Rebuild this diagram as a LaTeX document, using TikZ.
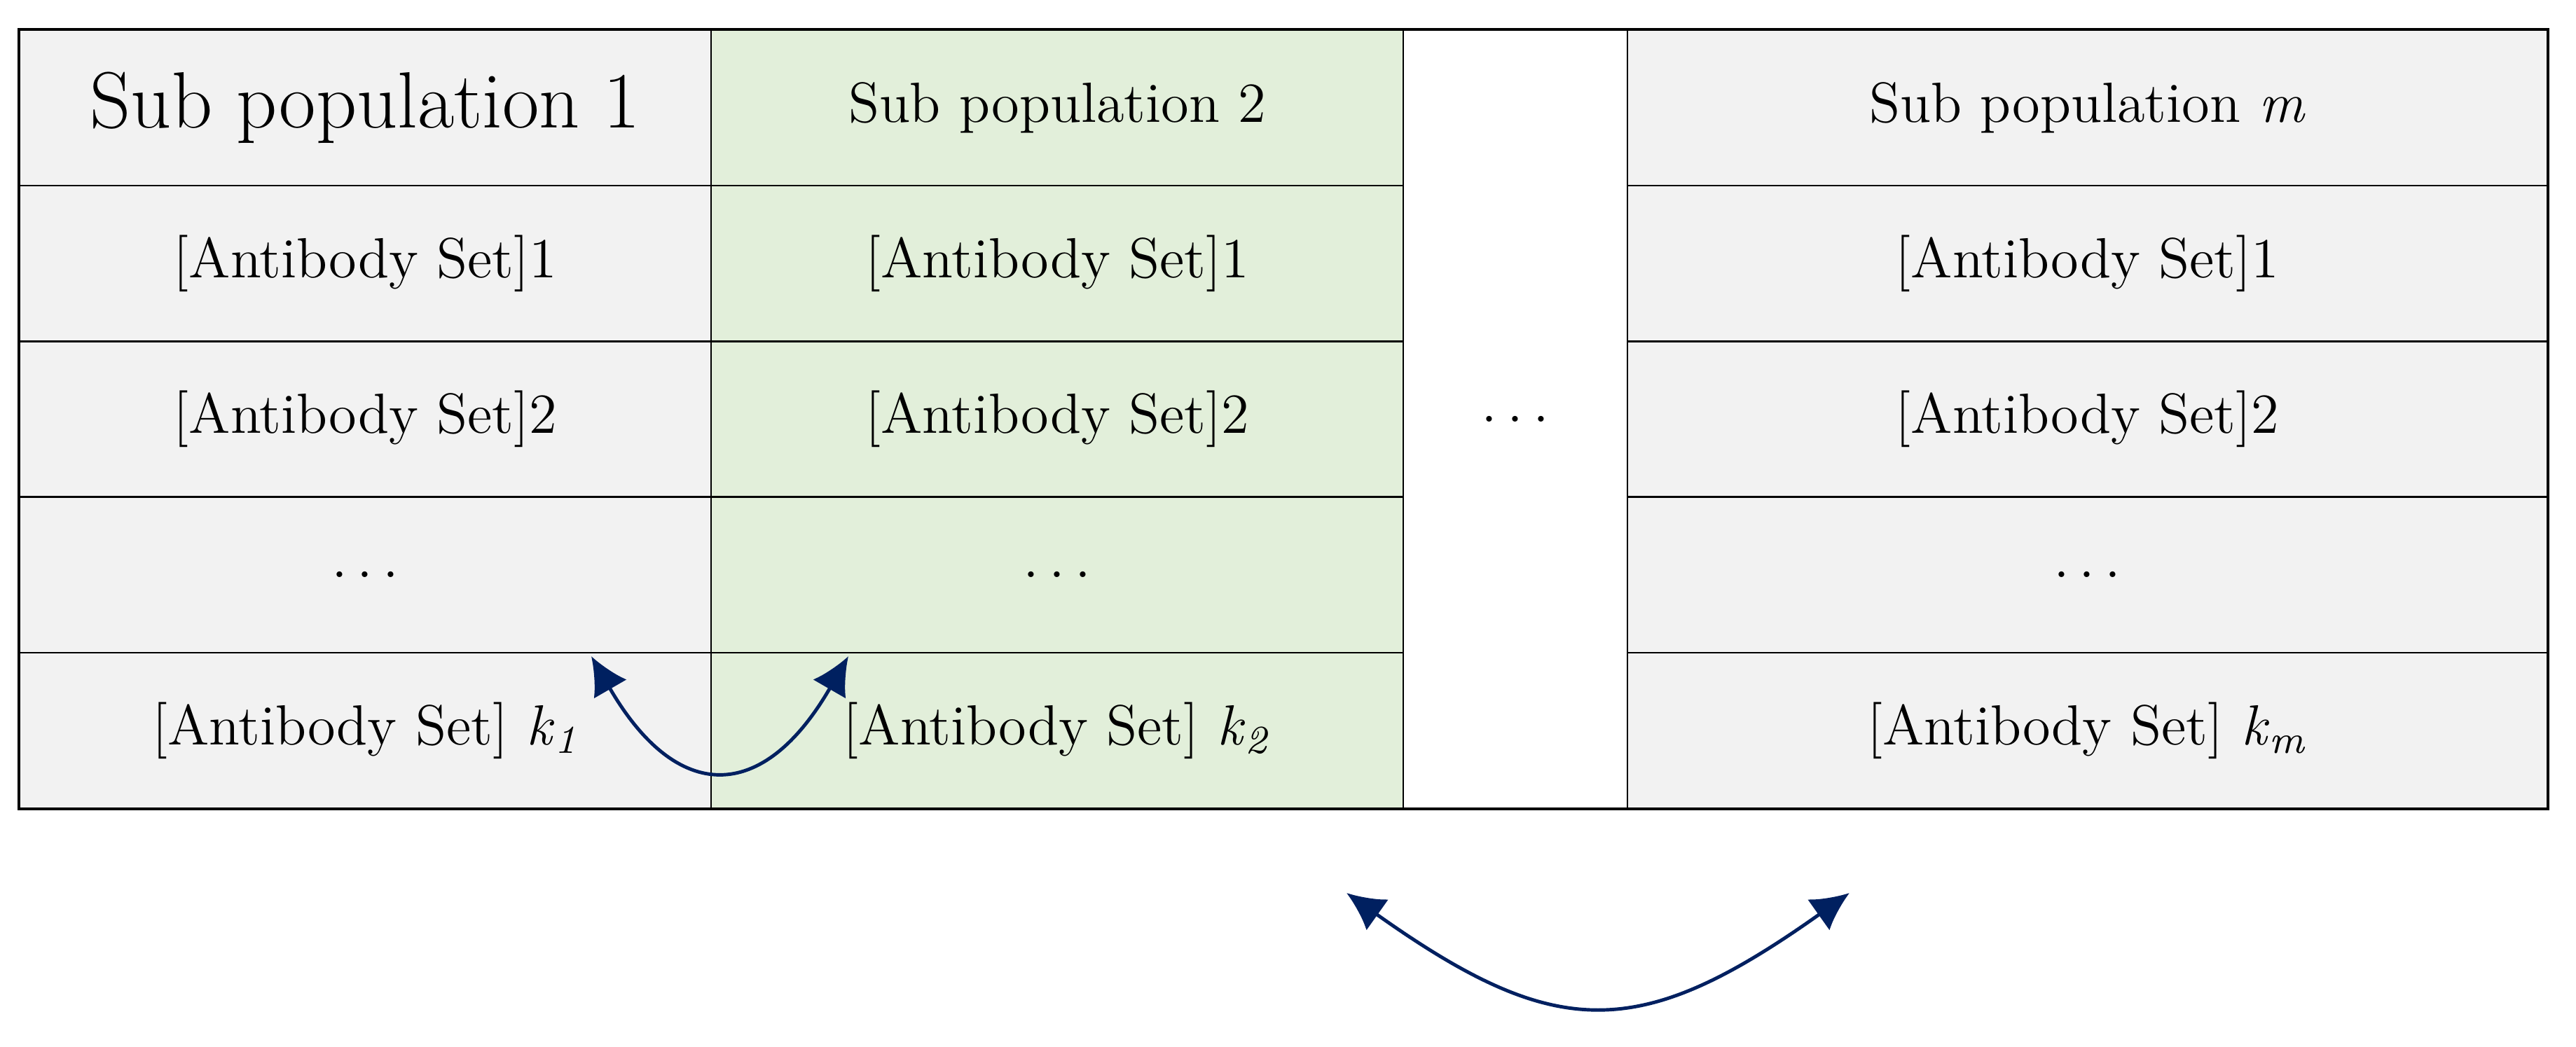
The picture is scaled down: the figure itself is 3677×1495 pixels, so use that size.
\documentclass[tikz,border=0pt]{standalone}
\usepackage{tikz}
\usetikzlibrary{arrows.meta}
\definecolor{cellgray}{HTML}{F2F2F2}
\definecolor{cellgreen}{HTML}{E2EFDA}
\definecolor{arrownavy}{HTML}{002060}

\begin{document}
\begin{tikzpicture}[x=0.05mm, y=-0.05mm,
    cell/.style={draw, line width=0.35pt, inner sep=0pt, minimum height=11.11mm,
                 font=\fontsize{11.5}{13}\selectfont},
    colone/.style={cell, fill=cellgray, minimum width=49.35mm},
    coltwo/.style={cell, fill=cellgreen, minimum width=49.4mm},
    colm/.style={cell, fill=cellgray, minimum width=65.65mm},
    head/.style={font=\fontsize{11.5}{13}\selectfont},
    exchange/.style={<->, >={Latex[length=2.7mm, width=2.7mm]}, draw=arrownavy, line width=0.7pt}]
    \useasboundingbox (0,0) rectangle (3677,1495);

    % sub population 1
    \node[colone, font=\fontsize{16.2}{19}\selectfont] (h1) at (521.5,154.1) {Sub population 1};
    \node[colone] (a11) at (521.5,376.3) {[Antibody Set]1};
    \node[colone] (a12) at (521.5,598.5) {[Antibody Set]2};
    \node[colone] (d1) at (521.5,820.7) {$\ldots$};
    \node[colone] (k1) at (521.5,1042.9) {[Antibody Set] \textit{k}\textsubscript{\textit{1}}};

    % sub population 2
    \node[coltwo, head] (h2) at (1509,154.1) {Sub population 2};
    \node[coltwo] (a21) at (1509,376.3) {[Antibody Set]1};
    \node[coltwo] (a22) at (1509,598.5) {[Antibody Set]2};
    \node[coltwo] (d2) at (1509,820.7) {$\ldots$};
    \node[coltwo] (k2) at (1509,1042.9) {[Antibody Set] \textit{k}\textsubscript{\textit{2}}};

    % the columns left out
    \node[cell, minimum width=16mm, minimum height=55.55mm] (gap) at (2163,598.5) {$\ldots$};

    % sub population m
    \node[colm, head] (hm) at (2979.5,154.1) {Sub population \textit{m}};
    \node[colm] (am1) at (2979.5,376.3) {[Antibody Set]1};
    \node[colm] (am2) at (2979.5,598.5) {[Antibody Set]2};
    \node[colm] (dm) at (2979.5,820.7) {$\ldots$};
    \node[colm] (km) at (2979.5,1042.9) {[Antibody Set] \textit{k}\textsubscript{\textit{m}}};

    \draw[line width=0.5pt] (h1.north west) rectangle (km.south east);

    % exchange arrows
    \coordinate (k1tip) at (844,937);
    \coordinate (k2tip) at (1211,937);
    \draw[exchange] (k1tip) .. controls (966,1148) and (1089,1148) .. (k2tip);

    \coordinate (popleft) at (1922,1275);
    \coordinate (popright) at (2640,1275);
    \draw[exchange] (popleft) .. controls (2222,1488) and (2340,1488) .. (popright);
\end{tikzpicture}
\end{document}
